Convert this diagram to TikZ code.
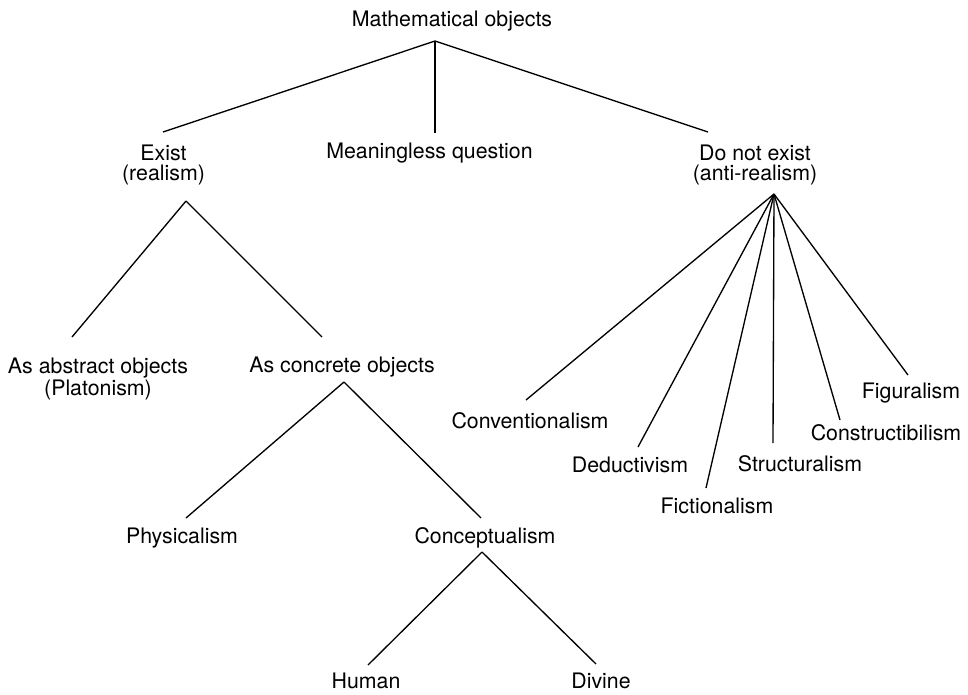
\documentclass[tikz,border=0pt]{standalone}
\usepackage{fontspec}
\setmainfont{TeX Gyre Heros}
\usetikzlibrary{positioning}

\tikzset{
	term/.style={inner sep=0pt, anchor=base, font=\fontsize{16}{15}\selectfont},
	twoline/.style={term, anchor=north, align=center},
	branch/.style={line width=1pt},
}

\begin{document}
\begin{tikzpicture}[x=0.75pt, y=-0.75pt]
		\useasboundingbox (0,0) rectangle (968,694);

		\node[term] (mathobj) at (452,26) {Mathematical objects};
		\node[twoline] (exist) at (163.5,145) {Exist\\(realism)};
		\node[term] (meaningless) at (429.5,158) {Meaningless question};
		\node[twoline] (antireal) at (755,145) {Do not exist\\(anti-realism)};

		\node[twoline] (abstract) at (98,358) {As abstract objects\\(Platonism)};
		\node[term] (concrete) at (342,372) {As concrete objects};
		\node[term] (physical) at (182,543) {Physicalism};
		\node[term] (concept) at (485,543) {Conceptualism};
		\node[term] (human) at (366,688) {Human};
		\node[term] (divine) at (601,688) {Divine};

		\node[term] (convent) at (530,428) {Conventionalism};
		\node[term] (deduct) at (630,472) {Deductivism};
		\node[term] (fiction) at (717,513) {Fictionalism};
		\node[term] (struct) at (800,471) {Structuralism};
		\node[term] (construct) at (886,440) {Constructibilism};
		\node[term] (figural) at (911,398) {Figuralism};

		% meeting points of the branches
		\coordinate (mathhub) at ([shift={(-17,15)}]mathobj.base);
		\coordinate (existhub) at ([shift={(22.5,56)}]exist.north);
		\coordinate (concretehub) at ([shift={(2,10)}]concrete.base);
		\coordinate (concepthub) at ([shift={(-3,9)}]concept.base);
		\coordinate (antihub) at ([shift={(19,49)}]antireal.north);

		\draw[branch] (mathhub) -- ([shift={(-0.5,-13)}]exist.north);
		\draw[branch] (mathhub) -- ([shift={(5.5,-25)}]meaningless.base);
		\draw[branch] (mathhub) -- ([shift={(-47,-13)}]antireal.north);

		\draw[branch] (existhub) -- ([shift={(-26,-21)}]abstract.north);
		\draw[branch] (existhub) -- ([shift={(-20,-35)}]concrete.base);
		\draw[branch] (concretehub) -- ([shift={(4,-25)}]physical.base);
		\draw[branch] (concretehub) -- ([shift={(-4,-25)}]concept.base);
		\draw[branch] (concepthub) -- ([shift={(2,-23)}]human.base);
		\draw[branch] (concepthub) -- ([shift={(-5,-24)}]divine.base);

		\draw[branch] (antihub) -- ([shift={(-4,-28)}]convent.base);
		\draw[branch] (antihub) -- ([shift={(8,-25)}]deduct.base);
		\draw[branch] (antihub) -- ([shift={(-11,-25)}]fiction.base);
		\draw[branch] (antihub) -- ([shift={(-27,-28)}]struct.base);
		\draw[branch] (antihub) -- ([shift={(-46,-20)}]construct.base);
		\draw[branch] (antihub) -- ([shift={(-3,-23)}]figural.base);

	\end{tikzpicture}
\end{document}
